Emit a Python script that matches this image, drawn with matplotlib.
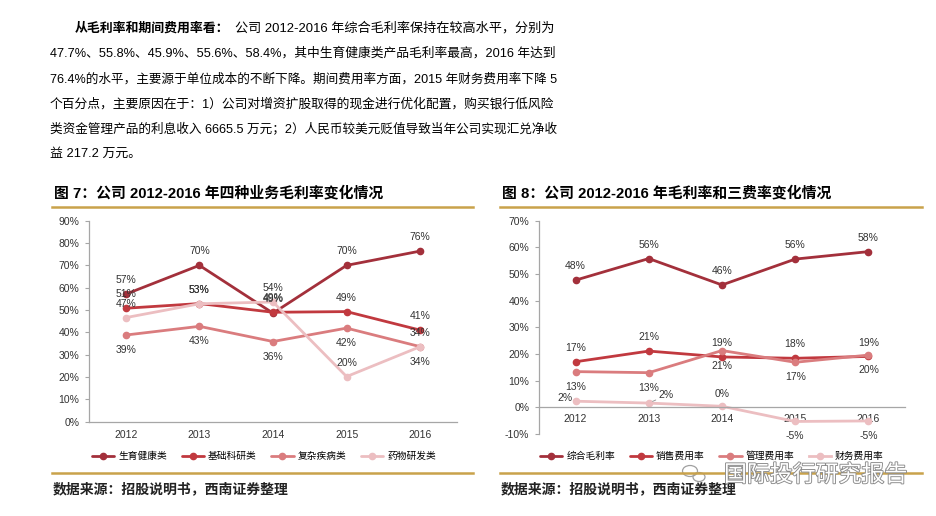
import matplotlib
matplotlib.use('Agg')
import matplotlib.pyplot as plt
import matplotlib.patheffects as pe
from matplotlib.lines import Line2D
from matplotlib.patches import Ellipse
from matplotlib.ticker import FuncFormatter

plt.rcParams['font.family'] = ['Liberation Sans', 'Noto Sans CJK SC']
plt.rcParams['axes.unicode_minus'] = False

years = ['2012', '2013', '2014', '2015', '2016']

# 图7：四种业务毛利率（%）
biz_names = ['生育健康类', '基础科研类', '复杂疾病类', '药物研发类']
shengyu = [57.1, 70.0, 48.6, 70.0, 76.4]
jichu = [50.8, 52.9, 49.0, 49.3, 41.0]
fuza = [38.8, 42.7, 35.9, 41.9, 33.6]
yaowu = [46.6, 52.8, 53.6, 20.2, 33.6]

# 图8：综合毛利率和三费率（%）
rate_names = ['综合毛利率', '销售费用率', '管理费用率', '财务费用率']
maoli = [47.7, 55.8, 45.9, 55.6, 58.4]
xiaoshou = [17.1, 21.1, 18.9, 18.4, 19.1]
guanli = [13.4, 13.0, 21.3, 16.9, 19.6]
caiwu = [2.3, 1.6, 0.4, -5.3, -5.1]

para_bold = '从毛利率和期间费用率看：'
para_lines = [
    '公司 2012-2016 年综合毛利率保持在较高水平，分别为',
    '47.7%、55.8%、45.9%、55.6%、58.4%，其中生育健康类产品毛利率最高，2016 年达到',
    '76.4%的水平，主要源于单位成本的不断下降。期间费用率方面，2015 年财务费用率下降 5',
    '个百分点，主要原因在于：1）公司对增资扩股取得的现金进行优化配置，购买银行低风险',
    '类资金管理产品的利息收入 6665.5 万元；2）人民币较美元贬值导致当年公司实现汇兑净收',
    '益 217.2 万元。',
]

colors = ['#A3303B', '#C1393F', '#DA7C7E', '#ECBEC1']
W, H = 937, 516
fx = lambda px: px / W
fy = lambda py: 1 - py / H

fig = plt.figure(figsize=(W / 100, H / 100), dpi=100)
renderer = fig.canvas.get_renderer()

# 上方正文（除末行外两端对齐到 x=555）
ys = [28, 53, 79, 104, 129, 154]
fig.text(fx(75), fy(ys[0]), para_bold, fontsize=9.3, fontweight='bold', va='center')
starts = [235] + [50] * 5
for k, (y, s, x0) in enumerate(zip(ys, para_lines, starts)):
    t = fig.text(fx(x0), fy(y), s, fontsize=9.3, va='center')
    if k < len(para_lines) - 1:
        w = t.get_window_extent(renderer).width
        t.set_fontsize(9.3 * (555 - x0) / w)

pct = FuncFormatter(lambda v, p: f'{v:.0f}%')


def style_axes(ax):
    for s in ['top', 'right']:
        ax.spines[s].set_visible(False)
    for s in ['left', 'bottom']:
        ax.spines[s].set_color('#A6A6A6')
        ax.spines[s].set_linewidth(0.9)
    ax.set_xticks(range(len(years)))
    ax.set_xticklabels(years)
    ax.set_xlim(-0.5, len(years) - 0.5)
    ax.yaxis.set_major_formatter(pct)
    ax.tick_params(axis='y', length=3, color='#A6A6A6', labelsize=7.5,
                   labelcolor='#333333', pad=4)
    ax.tick_params(axis='x', length=0, labelsize=7.5, labelcolor='#333333')
    ax.patch.set_visible(False)


def draw(ax, series, names, offsets):
    x = range(len(years))
    for vals, name, c, offs in zip(series, names, colors, offsets):
        ax.plot(x, vals, color=c, lw=2, marker='o', ms=4.5, label=name,
                solid_capstyle='round')
        for i, v in enumerate(vals):
            dx, dy, ha = offs[i]
            ax.annotate(f'{v:.0f}%', (i, v), xytext=(dx, dy), textcoords='offset points',
                        ha=ha, va='center', fontsize=7.5, color='#333333')


up = (0, 10, 'center')
dn = (0, -10.8, 'center')

# 图7
ax1 = fig.add_axes([fx(89), fy(421.7), fx(457) - fx(89), fy(220.7) - fy(421.7)])
style_axes(ax1)
ax1.set_ylim(0, 90)
ax1.set_yticks(range(0, 91, 10))
ax1.tick_params(axis='x', pad=6)
draw(ax1, [shengyu, jichu, fuza, yaowu], biz_names,
     [[up] * 5, [up] * 5, [dn] * 5, [up] * 5])

# 图8
ax2 = fig.add_axes([fx(539), fy(434), fx(905) - fx(539), fy(220.7) - fy(434)])
style_axes(ax2)
ax2.set_ylim(-10, 70)
ax2.set_yticks(range(-10, 71, 10))
ax2.spines['bottom'].set_position(('data', 0))
ax2.tick_params(axis='x', pad=5)
cw_offs = [(-2, 2, 'right'), None, (0, 8.5, 'center'), dn, dn]
draw(ax2, [maoli, xiaoshou, guanli], rate_names[:3], [[up] * 5, [up] * 5, [dn] * 5])
ax2.plot(range(len(years)), caiwu, color=colors[3], lw=2, marker='o', ms=4.5,
         label=rate_names[3])
for i, v in enumerate(caiwu):
    if cw_offs[i] is None:
        ax2.annotate(f'{v:.0f}%', (i, v), xytext=(7, 5.5), textcoords='offset points',
                     ha='left', va='center', fontsize=7.5, color='#333333',
                     arrowprops=dict(arrowstyle='-', color='#999999', lw=0.7,
                                     shrinkA=0, shrinkB=3))
    else:
        dx, dy, ha = cw_offs[i]
        ax2.annotate(f'{v:.0f}%', (i, v), xytext=(dx, dy), textcoords='offset points',
                     ha=ha, va='center', fontsize=7.5, color='#333333')

# 图例
for ax, cx in [(ax1, 264), (ax2, 712)]:
    h, l = ax.get_legend_handles_labels()
    fig.legend(h, l, loc='center', bbox_to_anchor=(fx(cx), fy(456)), ncol=4,
               frameon=False, fontsize=7, handlelength=2.3, handletextpad=0.4,
               columnspacing=1.5, borderaxespad=0, borderpad=0)

# 标题、分隔线、来源
gold = '#C9A24B'
titles = ['图 7：公司 2012-2016 年四种业务毛利率变化情况',
          '图 8：公司 2012-2016 年毛利率和三费率变化情况']
for x0, x1, t in [(52, 473, titles[0]), (500, 922, titles[1])]:
    fig.text(fx(x0 + 2), fy(193), t, fontsize=10.7, fontweight='bold', va='center')
    for y in (207, 473):
        fig.add_artist(Line2D([fx(x0), fx(x1)], [fy(y), fy(y)], transform=fig.transFigure,
                              color=gold, lw=1.8))
    fig.text(fx(x0 + 1), fy(489), '数据来源：招股说明书，西南证券整理', fontsize=10,
             fontweight='bold', fontstyle='italic', va='center', color='#222222')

# 水印
for (ex, ey, ew, eh) in [(690, 471, 15, 11), (699, 477, 12, 9)]:
    fig.add_artist(Ellipse((fx(ex), fy(ey)), ew / W, eh / H, transform=fig.transFigure,
                           fill=False, edgecolor='#A0A0A0', lw=0.9))
fig.text(fx(724), fy(475), '国际投行研究报告', fontsize=16.5, color='white', va='center',
         path_effects=[pe.withStroke(linewidth=1.3, foreground='#8A8A8A')])

fig.savefig('out.png', dpi=100)
